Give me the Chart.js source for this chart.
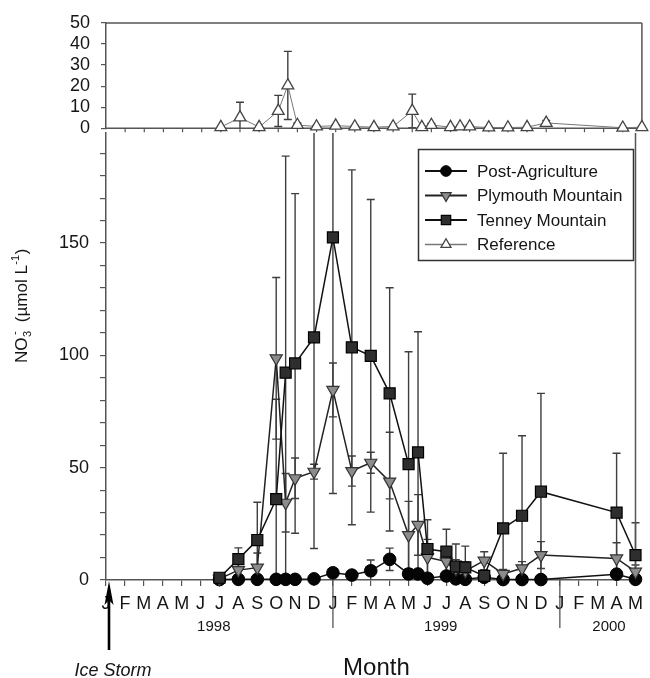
<!DOCTYPE html>
<html><head><meta charset="utf-8">
<script src="https://cdn.jsdelivr.net/npm/chart.js@4.4.1/dist/chart.umd.min.js"></script>
<style>
html,body{margin:0;padding:0;background:#fff;}
#wrap{position:relative;width:650px;height:678px;}
canvas{position:absolute;left:0;top:0;}
</style></head><body>
<div id="wrap"><canvas id="main" width="650" height="678"></canvas><canvas id="top" width="650" height="150"></canvas></div>
<script>
// ---------- data ----------
const monthLabels = ['J','F','M','A','M','J','J','A','S','O','N','D','J','F','M','A','M','J','J','A','S','O','N','D','J','F','M','A','M'];
const yearLabels = ['1998','1999','2000'];
const sampleMonths = [6,7,8,9,9.5,10,11,12,13,14,15,16,16.5,17,18,18.5,19,20,21,22,23,27,28];
const postAg    = [0.2,0.3,0.3,0.3,0.3,0.3,0.5,3.2,2.2,4.1,9.2,2.7,2.7,0.8,1.8,0.5,0.3,1.2,0.2,0.2,0.2,2.6,0.3];
const postAgErr = [0,0.5,0.5,0.5,0.5,0.5,1,1.5,1.5,4.8,5,2,2,1,1.5,0.8,0.8,1.5,0.5,0.5,0.5,1.5,0.5];
const plymouth    = [0.5,4.4,5.5,98.7,34.4,45.3,48.2,84.6,48.5,52.2,43.8,20,24.5,10.1,8.2,5,4,8.6,2.7,5.2,11.1,9.6,3.7];
const plymouthErr = [0.5,3,6.5,36,13,9,3.3,12,6.7,4.7,22,15,13.5,8,5,4,4,4,2,3,6,7,3];
const tenney    = [1,9.3,17.8,36,92.3,96.4,108,152.5,103.6,99.8,83.1,51.6,56.8,13.8,12.6,6,5.6,1.8,23,28.6,39.3,30,11.1];
const tenneyErr = [1,5,16.8,44.5,96.4,75.6,94,114,79,69.6,47,50,53.7,13,10,10,9.5,2,33.4,35.6,43.8,26.4,14.4];
const reference    = [0.5,5.1,0.5,8.2,20.3,1.5,0.8,1.2,0.8,0.5,0.8,8.2,0.5,1.5,0.5,0.8,0.8,0.3,0.3,0.5,2.5,0.2,0.5];
const referenceErr = [0.3,7.2,0.3,7.4,16.2,1,0.5,0.5,0.5,0.3,0.5,8,0.3,0.8,0.3,0.5,0.5,0.3,0.3,0.3,1.2,0.2,0.3];

// ---------- styles ----------
const FONT = "'Liberation Sans', Arial, Helvetica, sans-serif";
Chart.defaults.font.family = FONT;
const AX = '#555';
const TXT = '#151515';
const styles = {
  post: {label:'Post-Agriculture', shape:'circle', r:6.3, fill:'#050505', stroke:'#000', bw:1, line:'#111', lw:1.5},
  ply:  {label:'Plymouth Mountain', shape:'triangle', rot:180, r:7, fill:'#8c8c8c', stroke:'#333', bw:1.2, line:'#222', lw:1.5},
  ten:  {label:'Tenney Mountain', shape:'rect', r:7.8, fill:'#2e2e2e', stroke:'#000', bw:1.2, line:'#111', lw:1.5},
  ref:  {label:'Reference', shape:'triangle', rot:0, r:6.8, fill:'#ffffff', stroke:'#444', bw:1.3, line:'#777', lw:1}
};

function pts(vals){ return sampleMonths.map((m,i)=>({x:m, y:vals[i]})); }
function mkDataset(st, vals, errs){
  return {
    label: st.label, data: pts(vals), errors: errs,
    borderColor: st.line, borderWidth: st.lw, tension: 0, fill:false,
    pointStyle: st.shape, pointRotation: st.rot||0, pointRadius: st.r, pointHoverRadius: st.r,
    pointBackgroundColor: st.fill, pointBorderColor: st.stroke, pointBorderWidth: st.bw,
    clip: false
  };
}

function drawMarker(ctx, st, x, y){
  ctx.save();
  ctx.fillStyle = st.fill; ctx.strokeStyle = st.stroke; ctx.lineWidth = st.bw;
  ctx.beginPath();
  const r = st.r;
  if (st.shape === 'circle') ctx.arc(x, y, r, 0, Math.PI*2);
  else if (st.shape === 'rect') { const s = r*Math.SQRT1_2; ctx.rect(x-s, y-s, 2*s, 2*s); }
  else {
    let rad = (st.rot||0)*Math.PI/180;
    ctx.moveTo(x+Math.sin(rad)*r, y-Math.cos(rad)*r);
    rad += 2*Math.PI/3; ctx.lineTo(x+Math.sin(rad)*r, y-Math.cos(rad)*r);
    rad += 2*Math.PI/3; ctx.lineTo(x+Math.sin(rad)*r, y-Math.cos(rad)*r);
    ctx.closePath();
  }
  ctx.fill(); ctx.stroke();
  ctx.restore();
}

const errorBars = {
  id: 'errorBars',
  beforeDatasetsDraw(chart){
    const ctx = chart.ctx, area = chart.chartArea, xs = chart.scales.x;
    chart.data.datasets.forEach((ds, i) => {
      if (!ds.errors) return;
      const ys = chart.scales[chart.getDatasetMeta(i).yAxisID];
      ctx.save();
      ctx.strokeStyle = '#3e3e3e'; ctx.lineWidth = 1.4;
      ds.data.forEach((p, j) => {
        const e = ds.errors[j]; if (!e) return;
        const px = xs.getPixelForValue(p.x);
        let t = ys.getPixelForValue(p.y + e), b = ys.getPixelForValue(p.y - e);
        const capT = t >= area.top - 0.5, capB = b <= area.bottom + 0.5;
        t = Math.max(t, area.top); b = Math.min(b, area.bottom);
        ctx.beginPath();
        ctx.moveTo(px, t); ctx.lineTo(px, b);
        if (capT) { ctx.moveTo(px-4, t); ctx.lineTo(px+4, t); }
        if (capB) { ctx.moveTo(px-4, b); ctx.lineTo(px+4, b); }
        ctx.stroke();
      });
      ctx.restore();
    });
  }
};

function line(ctx, x1, y1, x2, y2){ ctx.beginPath(); ctx.moveTo(x1,y1); ctx.lineTo(x2,y2); ctx.stroke(); }

const mainDecor = {
  id: 'mainDecor',
  beforeDatasetsDraw(chart){
    const ctx = chart.ctx, a = chart.chartArea, xs = chart.scales.x;
    ctx.save();
    ctx.strokeStyle = AX; ctx.lineWidth = 1.5;
    line(ctx, a.right, a.top, a.right, a.bottom);
    ctx.lineWidth = 1.3;
    [12, 24].forEach(m => { const x = xs.getPixelForValue(m); line(ctx, x, a.bottom, x, a.bottom + 48); });
    ctx.restore();
  },
  afterDraw(chart){
    const ctx = chart.ctx, a = chart.chartArea, xs = chart.scales.x;
    ctx.save();
    ctx.fillStyle = TXT;
    ctx.font = '15px ' + FONT; ctx.textAlign = 'center'; ctx.textBaseline = 'alphabetic';
    const yearCentres = [5.7, 17.7, 26.6];
    yearLabels.forEach((t, i) => ctx.fillText(t, xs.getPixelForValue(yearCentres[i]), 631));
    ctx.font = '24px ' + FONT;
    ctx.fillText('Month', xs.getPixelForValue(14.3), 675);
    const ax = xs.getPixelForValue(0) + 3;
    ctx.strokeStyle = '#000'; ctx.lineWidth = 2.6;
    line(ctx, ax, 650, ax, 598);
    ctx.beginPath();
    ctx.moveTo(ax, 581); ctx.lineTo(ax + 4.5, 605); ctx.lineTo(ax, 600); ctx.lineTo(ax - 4.5, 605); ctx.closePath();
    ctx.fillStyle = '#000'; ctx.fill();
    ctx.fillStyle = TXT;
    ctx.font = 'italic 18px ' + FONT;
    ctx.fillText('Ice Storm', 113, 676);
    ctx.save();
    ctx.translate(27, 363); ctx.rotate(-Math.PI/2);
    ctx.textAlign = 'left';
    let x = 0;
    const big = '17px ' + FONT, small = '11px ' + FONT;
    ctx.font = big; ctx.fillText('NO', x, 0); x += ctx.measureText('NO').width + 0.5;
    ctx.font = small; ctx.fillText('3', x, 4); const w3 = ctx.measureText('3').width;
    ctx.fillText('-', x + 2, -9); x += w3 + 4;
    ctx.font = big; const s2 = ' (\u00B5mol L'; ctx.fillText(s2, x, 0); x += ctx.measureText(s2).width + 0.5;
    ctx.font = small; ctx.fillText('-1', x, -8); x += ctx.measureText('-1').width + 0.5;
    ctx.font = big; ctx.fillText(')', x, 0);
    ctx.restore();
    const L = {x: 418.5, y: 149.5, w: 215, h: 111};
    ctx.fillStyle = '#fff'; ctx.fillRect(L.x, L.y, L.w, L.h);
    ctx.strokeStyle = '#333'; ctx.lineWidth = 1.5; ctx.strokeRect(L.x, L.y, L.w, L.h);
    const items = [styles.post, styles.ply, styles.ten, styles.ref];
    ctx.font = '17px ' + FONT; ctx.textAlign = 'left'; ctx.textBaseline = 'middle';
    items.forEach((st, i) => {
      const cy = 171 + i * 24.5;
      ctx.strokeStyle = st.line; ctx.lineWidth = st.lw + 0.3;
      line(ctx, 425, cy, 467, cy);
      drawMarker(ctx, Object.assign({}, st, {r: st.r * 0.85}), 446, cy);
      ctx.fillStyle = TXT;
      ctx.fillText(st.label, 477, cy + 1);
    });
    ctx.restore();
  }
};

const topDecor = {
  id: 'topDecor',
  beforeDatasetsDraw(chart){
    const ctx = chart.ctx, a = chart.chartArea, xs = chart.scales.x;
    ctx.save();
    ctx.strokeStyle = AX; ctx.lineWidth = 1.5;
    line(ctx, a.left, a.top, a.right, a.top);
    line(ctx, a.right, a.top, a.right, a.bottom);
    line(ctx, a.left, a.bottom, a.right, a.bottom);
    ctx.lineWidth = 1.2;
    for (let m = 1; m < monthLabels.length - 1; m++) {
      const x = xs.getPixelForValue(m); line(ctx, x, a.bottom, x, a.bottom + 4);
    }
    ctx.restore();
  }
};

new Chart(document.getElementById('main'), {
  type: 'line',
  data: { datasets: [
    Object.assign(mkDataset(styles.post, postAg, postAgErr), {order: 3}),
    Object.assign(mkDataset(styles.ply, plymouth, plymouthErr), {order: 2}),
    Object.assign(mkDataset(styles.ten, tenney, tenneyErr), {order: 1})
  ]},
  options: {
    responsive: false, animation: false, devicePixelRatio: 1,
    layout: { padding: {top: 133, right: 7, left: 0, bottom: 0} },
    plugins: { legend: {display: false}, tooltip: {enabled: false} },
    scales: {
      x: {
        type: 'linear', min: 0, max: 28,
        ticks: { stepSize: 1, autoSkip: false, maxRotation: 0, minRotation: 0, padding: 7, color: TXT,
                 font: {size: 18}, callback: v => monthLabels[v] ?? '' },
        grid: { drawOnChartArea: false, drawTicks: true, tickLength: 6, color: AX, lineWidth: 1.2 },
        border: { color: AX, width: 1.5 },
        afterFit: s => { s.height = 98; }
      },
      y: {
        type: 'linear', min: 0, max: 199,
        ticks: { stepSize: 10, autoSkip: false, includeBounds: false, padding: 11, color: TXT, font: {size: 18},
                 callback: v => (v % 50 === 0 ? String(v) : '') },
        grid: { drawOnChartArea: false, drawTicks: true, tickLength: 6, color: AX, lineWidth: 1.2 },
        border: { color: AX, width: 1.5 },
        afterFit: s => { s.width = 106; }
      }
    }
  },
  plugins: [errorBars, mainDecor]
});

new Chart(document.getElementById('top'), {
  type: 'line',
  data: { datasets: [ mkDataset(styles.ref, reference, referenceErr) ] },
  options: {
    responsive: false, animation: false, devicePixelRatio: 1,
    layout: { padding: {top: 23, right: 7, left: 0, bottom: 17} },
    plugins: { legend: {display: false}, tooltip: {enabled: false} },
    scales: {
      x: { type: 'linear', min: 0, max: 28, display: false },
      y: {
        type: 'linear', min: 0, max: 50,
        ticks: { stepSize: 10, autoSkip: false, padding: 11, color: TXT, font: {size: 18} },
        grid: { drawOnChartArea: false, drawTicks: true, tickLength: 5, color: AX, lineWidth: 1.2 },
        border: { color: AX, width: 1.5 },
        afterFit: s => { s.width = 106; }
      }
    }
  },
  plugins: [errorBars, topDecor]
});
</script>
</body></html>
